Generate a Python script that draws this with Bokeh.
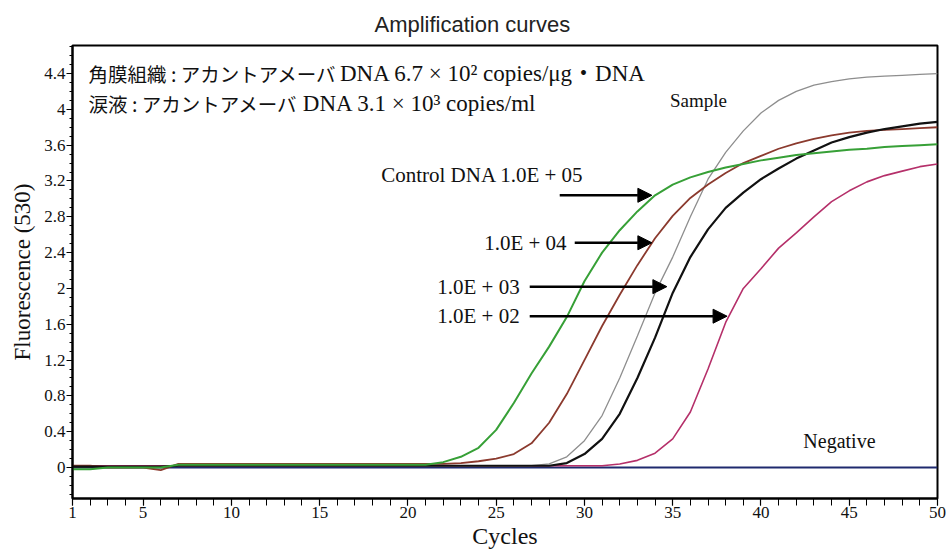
from bokeh.plotting import figure
from bokeh.models import Range1d, FixedTicker, CustomJSTickFormatter, Arrow, NormalHead
from bokeh.core.properties import value
from bokeh.embed import file_html
from bokeh.resources import INLINE

# ---------------- data ----------------
cycles = list(range(1, 51))

control_1e5 = [-0.02, -0.02, 0.0, 0.0, 0.0, 0.0, 0.03, 0.03, 0.03, 0.03,
               0.03, 0.03, 0.03, 0.03, 0.03, 0.03, 0.03, 0.03, 0.03, 0.03,
               0.03, 0.06, 0.12, 0.22, 0.42, 0.72, 1.05, 1.35, 1.68, 2.08,
               2.4, 2.65, 2.86, 3.04, 3.16, 3.24, 3.3, 3.35, 3.39, 3.43,
               3.46, 3.49, 3.51, 3.53, 3.55, 3.56, 3.58, 3.59, 3.6, 3.61]

control_1e4 = [0.02, 0.02, 0.0, 0.0, 0.0, -0.03, 0.04, 0.04, 0.04, 0.04,
               0.04, 0.04, 0.04, 0.04, 0.04, 0.04, 0.04, 0.04, 0.04, 0.04,
               0.04, 0.04, 0.05, 0.07, 0.1, 0.15, 0.27, 0.5, 0.82, 1.2,
               1.58, 1.93, 2.26, 2.56, 2.81, 3.01, 3.16, 3.29, 3.4, 3.48,
               3.56, 3.62, 3.67, 3.71, 3.74, 3.76, 3.77, 3.78, 3.79, 3.8]

sample_gray = [0.01, 0.01, 0.01, 0.01, 0.01, 0.01, 0.02, 0.02, 0.02, 0.02,
               0.02, 0.02, 0.02, 0.02, 0.02, 0.02, 0.02, 0.02, 0.02, 0.02,
               0.02, 0.02, 0.02, 0.02, 0.02, 0.02, 0.02, 0.04, 0.12, 0.3,
               0.58, 1.0, 1.47, 1.95, 2.35, 2.8, 3.22, 3.52, 3.76, 3.96,
               4.1, 4.2, 4.27, 4.31, 4.34, 4.36, 4.37, 4.38, 4.39, 4.4]

sample_black = [0.01, 0.01, 0.01, 0.01, 0.01, 0.01, 0.02, 0.02, 0.02, 0.02,
                0.02, 0.02, 0.02, 0.02, 0.02, 0.02, 0.02, 0.02, 0.02, 0.02,
                0.02, 0.02, 0.02, 0.02, 0.02, 0.02, 0.02, 0.02, 0.05, 0.15,
                0.32, 0.6, 1.0, 1.45, 1.95, 2.35, 2.66, 2.9, 3.07, 3.22,
                3.34, 3.45, 3.54, 3.63, 3.69, 3.74, 3.78, 3.81, 3.84, 3.86]

control_1e2 = [0.02, 0.02, 0.02, 0.02, 0.02, 0.02, 0.02, 0.02, 0.02, 0.02,
               0.02, 0.02, 0.02, 0.02, 0.02, 0.02, 0.02, 0.02, 0.02, 0.02,
               0.02, 0.02, 0.02, 0.02, 0.02, 0.02, 0.02, 0.02, 0.02, 0.02,
               0.02, 0.04, 0.08, 0.16, 0.32, 0.62, 1.1, 1.62, 2.0, 2.22,
               2.45, 2.62, 2.8, 2.97, 3.09, 3.19, 3.26, 3.31, 3.36, 3.39]

negative = [0.0, 0.0, 0.0, 0.0, 0.0, 0.0, 0.0, 0.0, 0.0, 0.0,
            0.0, 0.0, 0.0, 0.0, 0.0, 0.0, 0.0, 0.0, 0.0, 0.0,
            0.0, 0.0, 0.0, 0.0, 0.0, 0.0, 0.0, 0.0, 0.0, 0.0,
            0.0, 0.0, 0.0, 0.0, 0.0, 0.0, 0.0, 0.0, 0.0, 0.0,
            0.0, 0.0, 0.0, 0.0, 0.0, 0.0, 0.0, 0.0, 0.0, 0.0]

x_ticks = [1, 5, 10, 15, 20, 25, 30, 35, 40, 45, 50]
y_ticks = [0, 0.4, 0.8, 1.2, 1.6, 2, 2.4, 2.8, 3.2, 3.6, 4, 4.4]

note_jp = ["角膜組織 : アカントアメーバ", "涙液 : アカントアメーバ"]
note_latin = ["DNA 6.7 × 10² copies/μg・DNA", "DNA 3.1 × 10³ copies/ml"]
std_labels = ["Control DNA 1.0E + 05", "1.0E + 04", "1.0E + 03", "1.0E + 02"]

# ---------------- layout constants (annotation positions) ----------------
note_x = [1.91, 1.91]
note_latin_x = [16.15, 14.05]
note_y = [4.40, 4.07]
std_label_x = [29.96, 28.99, 26.33, 26.33]
std_label_y = [3.27, 2.51, 2.02, 1.69]
arrow_x0 = [28.6, 29.45, 26.9, 26.9]
arrow_x1 = [33.82, 33.82, 34.67, 38.08]
arrow_y = [3.04, 2.51, 2.02, 1.69]

SERIF = "Liberation Serif"
JP = "Noto Sans CJK JP"
MIX = "Liberation Serif, Noto Sans CJK JP"

p = figure(width=946, height=553, x_range=Range1d(1, 50), y_range=Range1d(-0.346, 4.713),
           output_backend="svg", toolbar_location=None,
           min_border_left=72, min_border_right=9, min_border_top=45, min_border_bottom=55,
           title="Amplification curves")
p.title.align = "left"
p.title.offset = 302
p.title.text_font = "Liberation Sans"
p.title.text_font_size = "22px"
p.title.text_font_style = "normal"
p.title.text_color = "#222222"
p.title.standoff = 17

p.grid.visible = False
p.outline_line_color = "black"
p.outline_line_width = 2
p.outline_line_alpha = 1.0
p.background_fill_color = "white"
p.border_fill_color = "white"

# axes
p.xaxis.ticker = FixedTicker(ticks=x_ticks, minor_ticks=cycles)
p.yaxis.ticker = FixedTicker(ticks=y_ticks,
                             minor_ticks=[-0.3, -0.2, -0.1] + [t / 10 for t in range(0, 48)])
p.yaxis.formatter = CustomJSTickFormatter(code="return String(Math.round(tick*10)/10);")
for ax in (p.xaxis[0], p.yaxis[0]):
    ax.axis_line_color = "black"
    ax.axis_line_width = 2
    ax.major_tick_line_color = "black"
    ax.minor_tick_line_color = "black"
    ax.major_tick_line_width = 1.2
    ax.minor_tick_line_width = 1
    ax.major_tick_in = 0
    ax.minor_tick_in = 0
    ax.major_label_text_font = SERIF
    ax.major_label_text_font_size = "17px"
    ax.major_label_text_color = "#111111"
    ax.axis_label_text_font = SERIF
    ax.axis_label_text_font_style = "normal"
    ax.axis_label_text_color = "#111111"

p.xaxis.major_tick_out = 7
p.xaxis.minor_tick_out = 7
p.xaxis.major_label_standoff = 1
p.xaxis.axis_label = "Cycles"
p.xaxis.axis_label_text_font_size = "24px"
p.xaxis.axis_label_standoff = 2

p.yaxis.major_tick_out = 6
p.yaxis.minor_tick_out = 3
p.yaxis.major_label_standoff = 1
p.yaxis.axis_label = "Fluorescence (530)"
p.yaxis.axis_label_text_font_size = "23px"
p.yaxis.axis_label_standoff = 6

# curves
p.line(cycles, negative, line_color="#1f2a6e", line_width=2)
p.line(cycles, control_1e2, line_color="#b5306a", line_width=1.6)
p.line(cycles, sample_gray, line_color="#8e8e8e", line_width=1.3)
p.line(cycles, control_1e4, line_color="#8b3a2e", line_width=1.8)
p.line(cycles, sample_black, line_color="#111111", line_width=2.2)
p.line(cycles, control_1e5, line_color="#37a037", line_width=2)

# texts
p.text(x=note_x, y=note_y, text=note_jp, text_font=value(JP), text_font_size="19.5px",
       text_baseline="middle", text_align="left", text_color="#111111")
p.text(x=note_latin_x, y=note_y, text=note_latin, text_font=value(MIX), text_font_size="23px",
       text_baseline="middle", text_align="left", text_color="#111111")
p.text(x=std_label_x, y=std_label_y, text=std_labels, text_font=value(SERIF),
       text_font_size="21px", text_baseline="middle", text_align="right", text_color="#111111")
p.text(x=[34.84], y=[4.10], text=["Sample"], text_font=value(SERIF), text_font_size="19px",
       text_baseline="middle", text_align="left", text_color="#111111")
p.text(x=[42.4], y=[0.30], text=["Negative"], text_font=value(SERIF), text_font_size="20px",
       text_baseline="middle", text_align="left", text_color="#111111")

for x0, x1, yy in zip(arrow_x0, arrow_x1, arrow_y):
    p.add_layout(Arrow(end=NormalHead(size=14, fill_color="black", line_color="black"),
                       x_start=x0, y_start=yy, x_end=x1, y_end=yy,
                       line_color="black", line_width=2.5))

open("out.html", "w").write(file_html(p, INLINE))
